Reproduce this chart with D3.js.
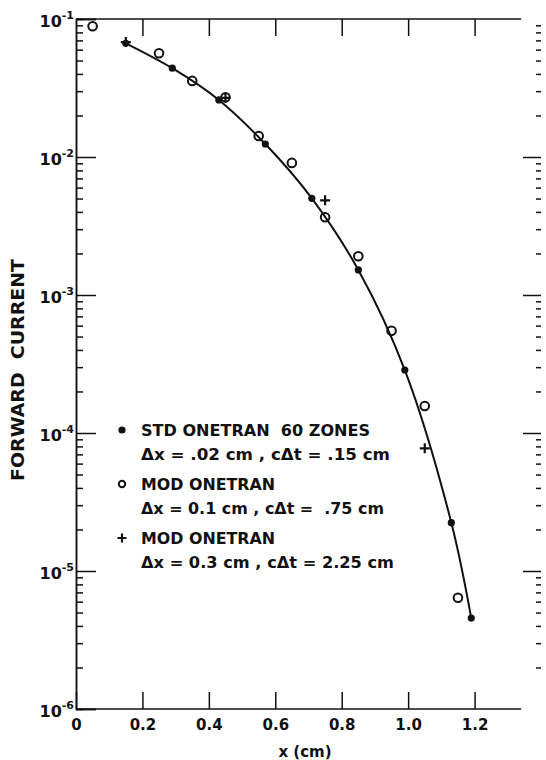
<!DOCTYPE html>
<html>
<meta charset="utf-8">
<style>
  body { margin: 0; background: #fff; }
  text { font-family: "DejaVu Sans", sans-serif; fill: #111; white-space: pre; }
  .axis path, .axis line { stroke: #111; stroke-width: 1.5; }
</style>
<body>
<script src="https://cdn.jsdelivr.net/npm/d3@7"></script>
<div id="chart"></div>
<script>
// Data.
var xStd = [0.15, 0.29, 0.43, 0.57, 0.71, 0.85, 0.99, 1.13, 1.19];
var yStd = [0.0667, 0.0440, 0.0259, 0.01242, 0.00502, 0.00152, 0.000286, 0.0000224, 0.00000456];
var xMod1 = [0.05, 0.25, 0.35, 0.45, 0.55, 0.65, 0.75, 0.85, 0.95, 1.05, 1.15];
var yMod1 = [0.0885, 0.0564, 0.0356, 0.0271, 0.01419, 0.00906, 0.00366, 0.00191, 0.00055, 0.000157, 0.0000064];
var xMod3 = [0.15, 0.45, 0.75, 1.05];
var yMod3 = [0.0681, 0.0268, 0.00485, 0.0000775];

var xTicks = [0, 0.2, 0.4, 0.6, 0.8, 1.0, 1.2];
var xTickLabels = ["0", "0.2", "0.4", "0.6", "0.8", "1.0", "1.2"];
var yTicks = [1e-6, 1e-5, 1e-4, 1e-3, 1e-2, 1e-1];
var yExponents = ["-6", "-5", "-4", "-3", "-2", "-1"];

var legendNames = ["STD ONETRAN  60 ZONES", "MOD ONETRAN", "MOD ONETRAN"];
var legendParams = ["\u0394x = .02 cm , c\u0394t = .15 cm",
                    "\u0394x = 0.1 cm , c\u0394t =  .75 cm",
                    "\u0394x = 0.3 cm , c\u0394t = 2.25 cm"];

var width = 546, height = 760;
var svg = d3.select("#chart").append("svg").attr("width", width).attr("height", height);

var x = d3.scaleLinear().domain([0, 1.4]).range([76, 541]);
var y = d3.scaleLog().domain([1e-6, 1e-1]).range([709, 19]);

// minor ticks 2..9 in every decade
var minor = [];
yTicks.slice(0, 5).forEach(function(d) {
  for (var k = 2; k <= 9; k++) minor.push(d * k);
});

// left axis
svg.append("g").attr("class", "axis").attr("transform", "translate(" + x(0) + ",0)")
  .call(d3.axisLeft(y).tickValues(minor).tickSize(-7).tickFormat(""));
var yl = svg.append("g").attr("class", "axis").attr("transform", "translate(" + x(0) + ",0)")
  .call(d3.axisLeft(y).tickValues(yTicks).tickSize(-20).tickPadding(2).tickFormat(""));
yl.selectAll(".tick text").each(function(d, i) {
  var t = d3.select(this).attr("dy", null).attr("y", 7)
    .style("font-size", "16px").style("font-weight", "bold");
  t.append("tspan").text("10");
  t.append("tspan").attr("dy", -8).style("font-size", "11px").text(yExponents[i]);
});

// right axis: ticks only
svg.append("g").attr("class", "axis").attr("transform", "translate(" + x(1.4) + ",0)")
  .call(d3.axisRight(y).tickValues(minor).tickSize(-5).tickFormat(""))
  .select(".domain").remove();
svg.append("g").attr("class", "axis").attr("transform", "translate(" + x(1.4) + ",0)")
  .call(d3.axisRight(y).tickValues(yTicks.slice(1, 5)).tickSize(-18).tickFormat(""))
  .select(".domain").remove();

// bottom axis
var xb = svg.append("g").attr("class", "axis").attr("transform", "translate(0," + y(1e-6) + ")")
  .call(d3.axisBottom(x).tickValues(xTicks).tickSize(-17).tickPadding(10)
    .tickFormat(function(d, i) { return xTickLabels[i]; }));
xb.select(".domain").remove();
xb.selectAll(".tick text").style("font-size", "15px").style("font-weight", "bold");

// top axis
var xt = svg.append("g").attr("class", "axis").attr("transform", "translate(0," + y(1e-1) + ")")
  .call(d3.axisTop(x).tickValues(xTicks.slice(1)).tickSize(-17).tickFormat(""));
xt.select(".domain").remove();

// top and bottom frame lines
[1e-1, 1e-6].forEach(function(v) {
  svg.append("line").attr("x1", x(0)).attr("x2", x(1.34)).attr("y1", y(v)).attr("y2", y(v))
    .attr("stroke", "#111").attr("stroke-width", 1.6);
});

// axis titles
svg.append("text").attr("x", 305).attr("y", 757).attr("text-anchor", "middle")
  .style("font-size", "15px").style("font-weight", "bold").text("x (cm)");
svg.append("text").attr("transform", "translate(24,370) rotate(-90)").attr("text-anchor", "middle")
  .attr("textLength", 222).attr("lengthAdjust", "spacingAndGlyphs")
  .style("font-size", "18px").style("font-weight", "bold").text("FORWARD  CURRENT");

// curve through the standard ONETRAN points
var std = xStd.map(function(d, i) { return [d, yStd[i]]; });
var line = d3.line().x(function(d) { return x(d[0]); }).y(function(d) { return y(d[1]); })
  .curve(d3.curveCatmullRom.alpha(0.5));
svg.append("path").datum(std).attr("d", line).attr("fill", "none")
  .attr("stroke", "#111").attr("stroke-width", 2);

// markers
svg.selectAll(".std").data(std).enter().append("circle").attr("class", "std")
  .attr("cx", function(d) { return x(d[0]); }).attr("cy", function(d) { return y(d[1]); })
  .attr("r", 3.6).attr("fill", "#111");

svg.selectAll(".mod1").data(xMod1).enter().append("circle").attr("class", "mod1")
  .attr("cx", function(d) { return x(d); }).attr("cy", function(d, i) { return y(yMod1[i]); })
  .attr("r", 4.3).attr("fill", "none").attr("stroke", "#111").attr("stroke-width", 2);

svg.selectAll(".mod3").data(xMod3).enter().append("path").attr("class", "mod3")
  .attr("transform", function(d, i) { return "translate(" + x(d) + "," + y(yMod3[i]) + ")"; })
  .attr("d", "M-5,0H5M0,-5V5").attr("stroke", "#111").attr("stroke-width", 2.2);

// legend
var lg = svg.append("g").attr("transform", "translate(122,0)");
var rows = [430, 484, 538];
var nameW = [229, 134, 134];
var paramW = [249, 243, 253];
rows.forEach(function(ry, i) {
  if (i === 0) lg.append("circle").attr("cx", 0).attr("cy", ry).attr("r", 3.6).attr("fill", "#111");
  if (i === 1) lg.append("circle").attr("cx", 0).attr("cy", ry).attr("r", 3.2).attr("fill", "none")
    .attr("stroke", "#111").attr("stroke-width", 2);
  if (i === 2) lg.append("path").attr("transform", "translate(0," + ry + ")")
    .attr("d", "M-4.5,0H4.5M0,-4.5V4.5").attr("stroke", "#111").attr("stroke-width", 2.2);
  lg.append("text").attr("x", 19).attr("y", ry + 6).attr("textLength", nameW[i])
    .attr("lengthAdjust", "spacingAndGlyphs")
    .style("font-size", "16px").style("font-weight", "bold").text(legendNames[i]);
  lg.append("text").attr("x", 19).attr("y", ry + 30).attr("textLength", paramW[i])
    .attr("lengthAdjust", "spacingAndGlyphs")
    .style("font-size", "16px").style("font-weight", "bold").text(legendParams[i]);
});
</script>
</body>
</html>
